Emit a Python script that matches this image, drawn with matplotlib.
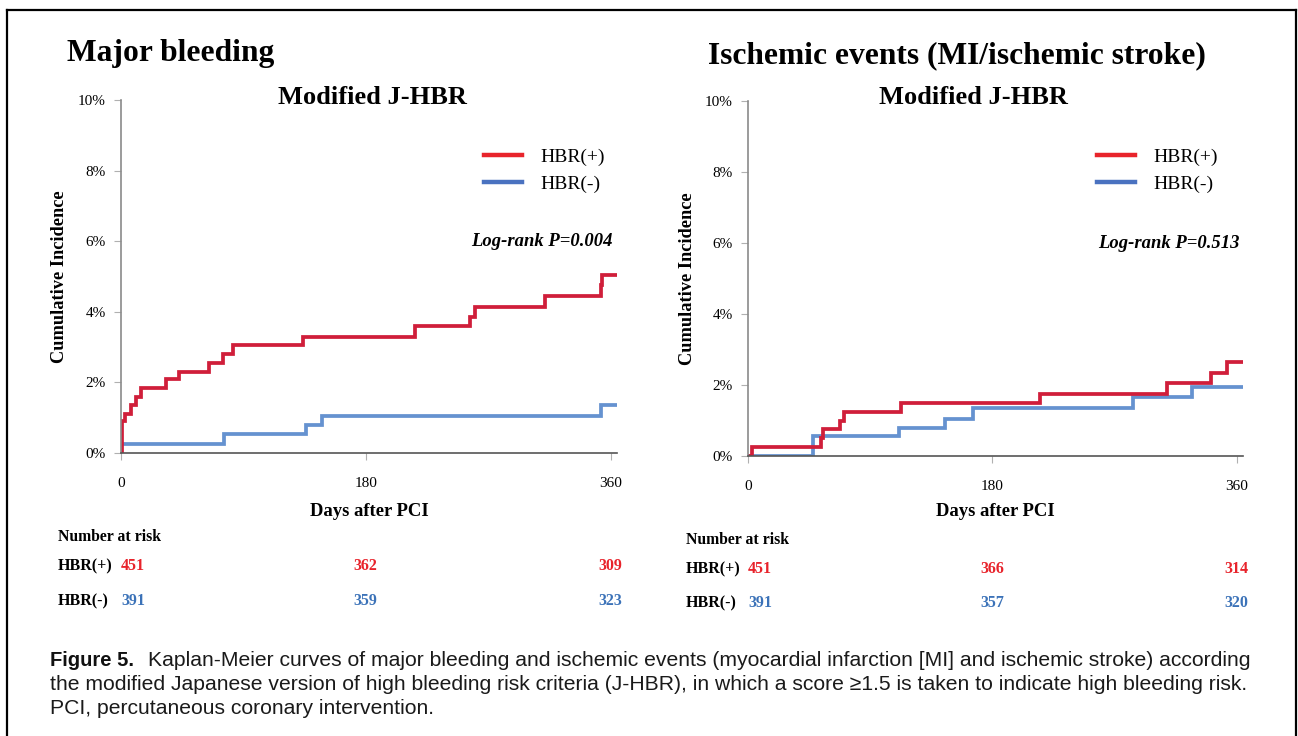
import matplotlib.pyplot as plt
from matplotlib.lines import Line2D
from matplotlib.transforms import blended_transform_factory

plt.rcParams['font.family'] = 'Liberation Serif'

# Kaplan-Meier step data (days after PCI, cumulative incidence %)
bleed_pos_days = [0, 1, 3, 7, 11, 15, 33, 43, 65, 75, 82, 134, 216, 256.5, 260, 312, 353, 354, 364.7]
bleed_pos_inc = [0, 0.9, 1.1, 1.35, 1.6, 1.85, 2.1, 2.3, 2.55, 2.8, 3.05, 3.3, 3.6, 3.85, 4.15, 4.45, 4.75, 5.05, 5.05]
bleed_neg_days = [0, 76, 136, 148, 353, 364.7]
bleed_neg_inc = [0.25, 0.53, 0.8, 1.05, 1.35, 1.35]

isch_pos_days = [0, 3, 54, 55, 68, 71, 113, 215, 309, 341, 353, 364.7]
isch_pos_inc = [0, 0.25, 0.5, 0.75, 1.0, 1.25, 1.5, 1.75, 2.05, 2.35, 2.65, 2.65]
isch_neg_days = [0, 48, 111, 145, 166, 284, 327, 364.7]
isch_neg_inc = [0, 0.55, 0.8, 1.05, 1.35, 1.65, 1.95, 1.95]

risk_days = [0, 180, 360]
bleed_risk_pos = [451, 362, 309]
bleed_risk_neg = [391, 359, 323]
isch_risk_pos = [451, 366, 314]
isch_risk_neg = [391, 357, 320]

x_ticks = [0, 180, 360]
y_ticks = [0, 2, 4, 6, 8, 10]
y_ticklabels = ['0%', '2%', '4%', '6%', '8%', '10%']

RED = '#d01e3a'
BLUE = '#6592d0'
RED_LEG = '#e8242b'
BLUE_LEG = '#4a72c0'
RED_TXT = '#e8232b'
BLUE_TXT = '#3b72b8'

W, H = 1298, 736
fig = plt.figure(figsize=(W / 100, H / 100), dpi=100)


def fx(px):
    return px / W


def fy(py):
    return 1 - py / H


def km_panel(x0, x1, y0, y1, pos, neg, pval, legend_x, pval_x, pval_y, sub_x):
    ax = fig.add_axes([fx(x0), fy(y0), fx(x1 - x0), (y0 - y1) / H])
    ax.step(neg[0], neg[1], where='post', color=BLUE, lw=2.7, solid_joinstyle='miter')
    ax.step(pos[0], pos[1], where='post', color=RED, lw=2.7, solid_joinstyle='miter')
    ax.set_xlim(0, 364.7)
    ax.set_ylim(0, 10)
    for s in ['top', 'right']:
        ax.spines[s].set_visible(False)
    ax.spines['left'].set_color('#8a8a8a')
    ax.spines['bottom'].set_color('#555555')
    ax.spines['left'].set_linewidth(1.2)
    ax.spines['bottom'].set_linewidth(1.2)
    ax.set_xticks(x_ticks)
    ax.set_yticks(y_ticks)
    ax.set_yticklabels(y_ticklabels)
    ax.tick_params(axis='both', colors='#b0b0b0', labelcolor='black', labelsize=11, length=5)
    ax.tick_params(axis='x', pad=12)
    ax.tick_params(axis='y', pad=6)
    # rotated y title, about 61 px left of the axis
    fig.text(fx(x0 - 61), fy((y0 + y1) / 2), 'Cumulative Incidence', rotation=90, ha='center',
             va='center', fontsize=13.2, fontweight='bold')
    ax.set_xlabel('Days after PCI', fontsize=13.4, fontweight='bold')
    ax.xaxis.set_label_coords(0.5, -(503 - y0) / (y0 - y1))
    handles = [Line2D([], [], color=RED_LEG, lw=3.2), Line2D([], [], color=BLUE_LEG, lw=3.2)]
    ax.legend(handles, ['HBR(+)', 'HBR(-)'], loc='upper left', frameon=False,
              bbox_to_anchor=(fx(legend_x), fy(148)), bbox_transform=fig.transFigure,
              fontsize=14, handlelength=1.95, handletextpad=0.95, labelspacing=0.5,
              borderpad=0, borderaxespad=0)
    fig.text(fx(pval_x), fy(pval_y), pval, ha='right', va='center', fontsize=13.4,
             fontweight='bold', fontstyle='italic')
    fig.text(fx(sub_x), fy(98), 'Modified J-HBR', ha='center', va='center',
             fontsize=19, fontweight='bold')
    return ax


def risk_table(ax, label_x, y_head, y_pos, y_neg, n_pos, n_neg):
    bt = blended_transform_factory(ax.transData, fig.transFigure)
    fig.text(fx(label_x), fy(y_head), 'Number at risk', ha='left', va='center',
             fontsize=11.3, fontweight='bold')
    fig.text(fx(label_x), fy(y_pos), 'HBR(+)', ha='left', va='center', fontsize=11.5, fontweight='bold')
    fig.text(fx(label_x), fy(y_neg), 'HBR(-)', ha='left', va='center', fontsize=11.5, fontweight='bold')
    aligns = ['left', 'center', 'center']
    for d, a, p, n in zip(risk_days, aligns, n_pos, n_neg):
        fig.text(d, fy(y_pos), str(p), transform=bt, ha=a, va='center', fontsize=11.5,
                 fontweight='bold', color=RED_TXT)
        fig.text(d, fy(y_neg), str(n), transform=bt, ha=a, va='center', fontsize=11.5,
                 fontweight='bold', color=BLUE_TXT)


# Left panel: major bleeding
ax1 = km_panel(121, 617, 453, 100, (bleed_pos_days, bleed_pos_inc), (bleed_neg_days, bleed_neg_inc),
               'Log-rank P=0.004', 484, 613, 241, 372)
risk_table(ax1, 58, 537, 566, 601, bleed_risk_pos, bleed_risk_neg)
fig.text(fx(67), fy(53), 'Major bleeding', ha='left', va='center', fontsize=22.7, fontweight='bold')

# Right panel: ischemic events
ax2 = km_panel(748, 1243, 456, 101, (isch_pos_days, isch_pos_inc), (isch_neg_days, isch_neg_inc),
               'Log-rank P=0.513', 1097, 1240, 243, 973)
risk_table(ax2, 686, 540, 569, 603, isch_risk_pos, isch_risk_neg)
fig.text(fx(708), fy(56), 'Ischemic events (MI/ischemic stroke)', ha='left', va='center',
         fontsize=22.7, fontweight='bold')

# Frame lines
frame = dict(color='black', lw=1.6, transform=fig.transFigure)
fig.add_artist(Line2D([fx(7), fx(7)], [fy(10), 0], **frame))
fig.add_artist(Line2D([fx(7), fx(1296)], [fy(10), fy(10)], **frame))
fig.add_artist(Line2D([fx(1296), fx(1296)], [fy(10), 0], **frame))

# Caption
cap = dict(ha='left', va='center', fontsize=15.2, family='Liberation Sans', color='#1a1a1a')
fig.text(fx(50), fy(661), 'Figure 5.', ha='left', va='center', fontsize=14.5, fontweight='bold',
         family=['Liberation Sans Narrow', 'Liberation Sans'], color='#111111')
fig.text(fx(148), fy(661), 'Kaplan-Meier curves of major bleeding and ischemic events '
         '(myocardial infarction [MI] and ischemic stroke) according', **cap)
fig.text(fx(50), fy(685), 'the modified Japanese version of high bleeding risk criteria (J-HBR), '
         'in which a score \u22651.5 is taken to indicate high bleeding risk.', **cap)
fig.text(fx(50), fy(708), 'PCI, percutaneous coronary intervention.', **cap)

fig.savefig('out.png', dpi=100)
